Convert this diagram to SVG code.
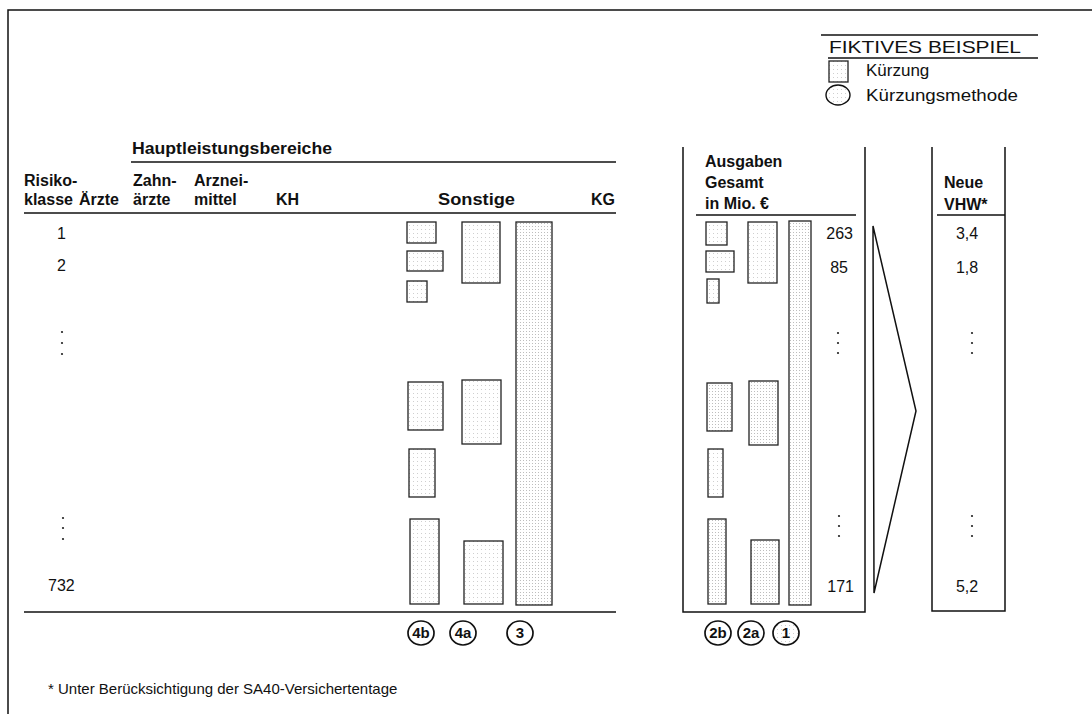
<svg xmlns="http://www.w3.org/2000/svg" width="1092" height="714" viewBox="0 0 1092 714">
<defs>
<pattern id="dots" width="4" height="4" patternUnits="userSpaceOnUse"><rect width="4" height="4" fill="#fff"/><rect x="1" y="1" width="1" height="1" fill="#cfcfcf"/></pattern>
<pattern id="dense" width="3" height="3" patternUnits="userSpaceOnUse"><rect width="3" height="3" fill="#fff"/><rect x="1" y="1" width="1" height="1" fill="#bdbdbd"/></pattern>
</defs>
<style>
text{font-family:"Liberation Sans",Arial,sans-serif;font-size:16px;fill:#111}
.b{font-weight:bold;font-size:16px}
.lg{font-size:17px}
.ln{stroke:#111;stroke-width:1.5;fill:none}
.bx{fill:url(#dots);stroke:#222;stroke-width:1.3}
.bd{fill:url(#dense);stroke:#222;stroke-width:1.3}
.c{fill:#fff;stroke:#111;stroke-width:1.7}
.ct{font-weight:bold;font-size:15px;text-anchor:middle}
.m{text-anchor:middle}
.e{text-anchor:end}
.dot{fill:#222}
</style>
<rect width="1092" height="714" fill="#fff"/>
<g id="frame"><path class="ln" d="M8 714 V10 H1092" stroke-width="2"/></g>

<g id="legend">
<line class="ln" x1="821" y1="35" x2="1038" y2="35" stroke-width="1"/>
<text class="lg" x="829" y="53" textLength="192" lengthAdjust="spacingAndGlyphs">FIKTIVES BEISPIEL</text>
<line class="ln" x1="828" y1="58" x2="1038" y2="58" stroke-width="1.2"/>
<rect class="bx" x="829" y="61" width="19" height="21"/>
<text class="lg" x="866" y="76">Kürzung</text>
<ellipse class="c" cx="838" cy="95" rx="12" ry="10" style="fill:url(#dots);stroke-width:1.4"/>
<text class="lg" x="866" y="101" textLength="152" lengthAdjust="spacingAndGlyphs">Kürzungsmethode</text>
</g>

<g id="header">
<text class="b" x="132" y="154" textLength="200" lengthAdjust="spacingAndGlyphs">Hauptleistungsbereiche</text>
<line class="ln" x1="131" y1="162" x2="616" y2="162"/>
<text class="b" x="24" y="186">Risiko-</text>
<text class="b" x="24" y="205">klasse</text>
<text class="b" x="79" y="205">Ärzte</text>
<text class="b" x="133" y="186">Zahn-</text>
<text class="b" x="133" y="205">ärzte</text>
<text class="b" x="194" y="186">Arznei-</text>
<text class="b" x="194" y="205">mittel</text>
<text class="b" x="276" y="205">KH</text>
<text class="b" x="438" y="205" textLength="77" lengthAdjust="spacingAndGlyphs">Sonstige</text>
<text class="b" x="591" y="205">KG</text>
<line class="ln" x1="24" y1="213" x2="616" y2="213"/>
<line class="ln" x1="24" y1="612" x2="616" y2="612"/>
</g>

<g id="risikoklassen">
<text x="57" y="239">1</text>
<text x="57" y="271">2</text>
<circle class="dot" cx="62" cy="332" r="1.1"/><circle class="dot" cx="62" cy="343" r="1.1"/><circle class="dot" cx="62" cy="354" r="1.1"/>
<circle class="dot" cx="63" cy="518" r="1.1"/><circle class="dot" cx="63" cy="528" r="1.1"/><circle class="dot" cx="63" cy="539" r="1.1"/>
<text x="48" y="591">732</text>
</g>

<g id="col-4b">
<rect class="bx" x="407" y="222" width="29" height="21"/>
<rect class="bx" x="407" y="251" width="36" height="20"/>
<rect class="bx" x="407" y="281" width="20" height="21"/>
<rect class="bx" x="408" y="382" width="35" height="48"/>
<rect class="bx" x="409" y="449" width="26" height="48"/>
<rect class="bx" x="410" y="519" width="29" height="85"/>
</g>
<g id="col-4a">
<rect class="bx" x="462" y="222" width="38" height="61"/>
<rect class="bx" x="462" y="380" width="39" height="64"/>
<rect class="bx" x="464" y="541" width="39" height="63"/>
</g>
<g id="col-3">
<rect class="bd" x="516" y="222" width="36" height="383"/>
</g>

<g id="ausgaben">
<path class="ln" d="M683 147 V612 H865 V147" stroke-width="1.7"/>
<text class="b" x="705" y="167">Ausgaben</text>
<text class="b" x="705" y="188">Gesamt</text>
<text class="b" x="705" y="209">in Mio. €</text>
<line class="ln" x1="696" y1="215" x2="856" y2="215"/>
<rect class="bx" x="706" y="222" width="21" height="23"/>
<rect class="bx" x="706" y="251" width="28" height="21"/>
<rect class="bx" x="707" y="279" width="12" height="24"/>
<rect class="bd" x="707" y="383" width="25" height="48"/>
<rect class="bx" x="708" y="449" width="15" height="48"/>
<rect class="bd" x="708" y="519" width="18" height="85"/>
<rect class="bx" x="748" y="222" width="29" height="61"/>
<rect class="bd" x="749" y="381" width="29" height="64"/>
<rect class="bd" x="751" y="540" width="28" height="64"/>
<rect class="bd" x="789" y="221" width="22" height="384"/>
<text class="e" x="853" y="239">263</text>
<text class="e" x="848" y="273">85</text>
<circle class="dot" cx="838" cy="333" r="1.1"/><circle class="dot" cx="838" cy="343" r="1.1"/><circle class="dot" cx="838" cy="353" r="1.1"/>
<circle class="dot" cx="839" cy="516" r="1.1"/><circle class="dot" cx="839" cy="526" r="1.1"/><circle class="dot" cx="839" cy="536" r="1.1"/>
<text class="e" x="854" y="592">171</text>
</g>

<g id="connectors">
<path class="ln" d="M873 226 L916 411 L874 593 Z" stroke-width="1.6"/>
</g>

<g id="vhw">
<path class="ln" d="M932 147 V611 H1005 V147" stroke-width="1.7"/>
<text class="b" x="944" y="188">Neue</text>
<text class="b" x="944" y="210">VHW*</text>
<line class="ln" x1="937" y1="215" x2="1005" y2="215"/>
<text class="m" x="967" y="239">3,4</text>
<text class="m" x="967" y="273">1,8</text>
<circle class="dot" cx="972" cy="333" r="1.1"/><circle class="dot" cx="972" cy="343" r="1.1"/><circle class="dot" cx="972" cy="353" r="1.1"/>
<circle class="dot" cx="972" cy="516" r="1.1"/><circle class="dot" cx="972" cy="526" r="1.1"/><circle class="dot" cx="972" cy="536" r="1.1"/>
<text class="m" x="967" y="592">5,2</text>
</g>

<g id="methods">
<g id="m4b"><ellipse class="c" cx="421" cy="633" rx="13" ry="12"/><text class="ct" x="421" y="638">4b</text></g>
<g id="m4a"><ellipse class="c" cx="463" cy="633" rx="13" ry="12"/><text class="ct" x="463" y="638">4a</text></g>
<g id="m3"><ellipse class="c" cx="520" cy="633" rx="13" ry="12"/><text class="ct" x="520" y="638">3</text></g>
<g id="m2b"><ellipse class="c" cx="718" cy="633" rx="13" ry="12"/><text class="ct" x="718" y="638">2b</text></g>
<g id="m2a"><ellipse class="c" cx="751" cy="633" rx="13" ry="12"/><text class="ct" x="751" y="638">2a</text></g>
<g id="m1"><ellipse class="c" cx="786" cy="633" rx="13" ry="12" style="fill:url(#dots)"/><text class="ct" x="786" y="638">1</text></g>
</g>

<g id="footnote"><text x="48" y="694" style="font-size:15px">* Unter Berücksichtigung der SA40-Versichertentage</text></g>
</svg>
